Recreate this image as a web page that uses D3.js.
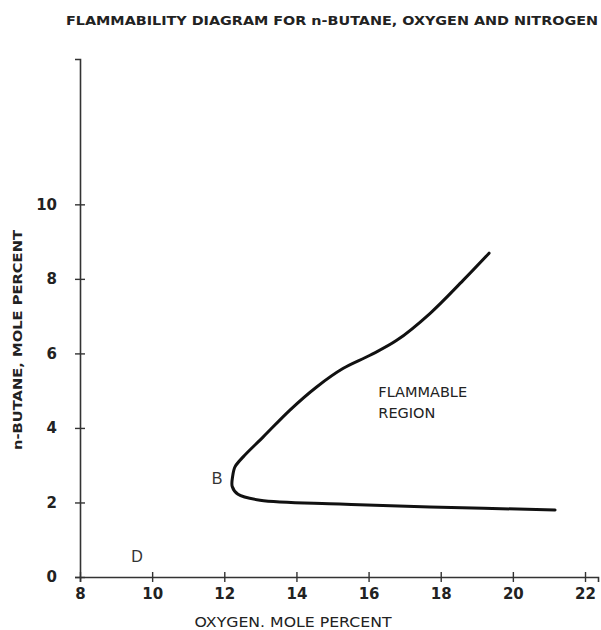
<!DOCTYPE html>
<html lang="en">

<head>
    <meta charset="UTF-8">
    <title>Flammability diagram</title>
    <script src="https://d3js.org/d3.v7.min.js"></script>
    <style>
        body { margin: 0; background: #fff; }
        svg { display: block; }
    </style>
</head>

<body>
    <svg id="chart" width="601" height="630"></svg>

    <script>
        // boundary of the flammable region, traced from the top end round the nose (B) to the right end
        const oxygen = [19.34, 18.62, 17.70, 16.78, 16.04, 15.30, 14.56, 13.82, 13.08, 12.53, 12.30, 12.23, 12.22, 12.38, 12.99, 15.2, 17.7, 21.17];
        const butane = [8.69, 7.96, 7.07, 6.35, 5.95, 5.60, 5.10, 4.48, 3.76, 3.23, 2.96, 2.69, 2.43, 2.22, 2.06, 1.96, 1.88, 1.8];

        const xTicks = [8, 10, 12, 14, 16, 18, 20, 22];
        const yTicks = [0, 2, 4, 6, 8, 10];

        // point labels drawn in the plot
        const pointLabels = ["B", "D"];
        const pointX = [11.8, 9.58];
        const pointY = [2.65, 0.54];

        const titleText = "FLAMMABILITY DIAGRAM FOR  n-BUTANE, OXYGEN AND NITROGEN";
        const xTitle = "OXYGEN. MOLE PERCENT";
        const yTitle = "n-BUTANE, MOLE PERCENT";
        const regionLines = ["FLAMMABLE", "REGION"];

        const ink = "#222";
        const letterFont = "DejaVu Sans, sans-serif";

        const svg = d3.select("#chart");

        const x = d3.scaleLinear().domain([8, 22.36]).range([80, 598]);
        const y = d3.scaleLinear().domain([0, 13.9]).range([577, 59]);

        // x axis
        const gx = svg.append("g")
            .attr("transform", `translate(0,${y(0)})`)
            .call(d3.axisBottom(x).tickValues(xTicks).tickSizeOuter(0).tickSize(5).tickPadding(6));
        gx.selectAll(".tick line").attr("y1", -5).attr("y2", 5);

        // y axis
        const gy = svg.append("g")
            .attr("transform", `translate(${x(8)},0)`)
            .call(d3.axisLeft(y).tickValues(yTicks).tickSizeOuter(0).tickSize(5).tickPadding(18));
        gy.selectAll(".tick line").attr("x1", -5).attr("x2", 5);

        svg.selectAll(".domain").attr("stroke", "#333").attr("stroke-width", 1.6);
        svg.selectAll(".tick line").attr("stroke", "#333").attr("stroke-width", 1.4);
        svg.selectAll(".tick text")
            .style("font-family", letterFont)
            .style("font-size", "15px")
            .style("font-weight", "bold")
            .attr("fill", ink);

        // curve
        const pts = oxygen.map((o, i) => [o, butane[i]]);
        const line = d3.line()
            .x(d => x(d[0]))
            .y(d => y(d[1]))
            .curve(d3.curveCatmullRom.alpha(0.5));
        svg.append("path")
            .attr("d", line(pts))
            .attr("fill", "none")
            .attr("stroke", "#111")
            .attr("stroke-width", 3)
            .attr("stroke-linecap", "round")
            .attr("stroke-linejoin", "round");

        // point labels
        svg.selectAll(".pt")
            .data(pointLabels)
            .join("text")
            .attr("x", (d, i) => x(pointX[i]))
            .attr("y", (d, i) => y(pointY[i]))
            .attr("text-anchor", "middle")
            .attr("dominant-baseline", "central")
            .style("font-family", "Liberation Sans, sans-serif")
            .style("font-size", "16px")
            .attr("fill", "#333")
            .text(d => d);

        // region label
        svg.selectAll(".region")
            .data(regionLines)
            .join("text")
            .attr("x", x(16.27))
            .attr("y", (d, i) => y(4.96) + i * 21)
            .attr("dominant-baseline", "central")
            .style("font-family", letterFont)
            .style("font-size", "14.5px")
            .attr("fill", ink)
            .text(d => d);

        // titles
        svg.append("text")
            .attr("x", 66)
            .attr("y", 20)
            .attr("dominant-baseline", "central")
            .style("font-family", letterFont)
            .style("font-size", "13px")
            .style("font-weight", "bold")
            .attr("fill", ink)
            .attr("textLength", 532)
            .attr("lengthAdjust", "spacingAndGlyphs")
            .text(titleText);

        svg.append("text")
            .attr("x", 293)
            .attr("y", 622)
            .attr("text-anchor", "middle")
            .attr("dominant-baseline", "central")
            .style("font-family", letterFont)
            .style("font-size", "14px")
            .attr("fill", ink)
            .attr("textLength", 197)
            .attr("lengthAdjust", "spacingAndGlyphs")
            .text(xTitle);

        svg.append("text")
            .attr("transform", "translate(17,340) rotate(-90)")
            .attr("text-anchor", "middle")
            .attr("dominant-baseline", "central")
            .style("font-family", letterFont)
            .style("font-size", "13px")
            .style("font-weight", "bold")
            .attr("fill", ink)
            .attr("textLength", 220)
            .attr("lengthAdjust", "spacingAndGlyphs")
            .text(yTitle);
    </script>
</body>

</html>
